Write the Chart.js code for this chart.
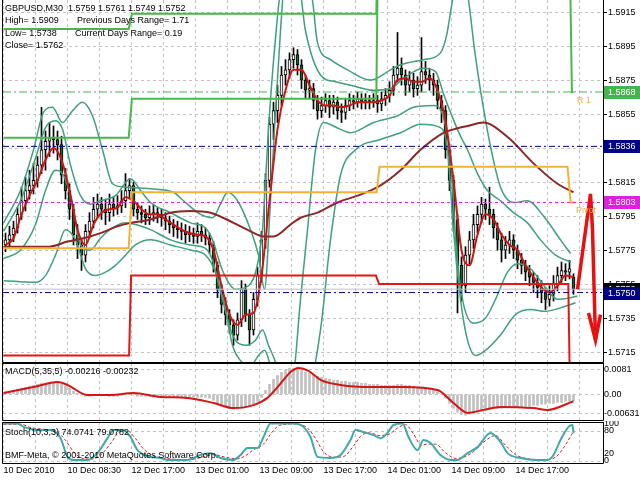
<!DOCTYPE html>
<html lang="en">
<head>
<meta charset="UTF-8">
<title>GBPUSD,M30</title>
<script src="https://cdn.jsdelivr.net/npm/chart.js"></script>
<style>
  body { margin: 0; background: #fff; width: 640px; height: 480px; overflow: hidden; position: relative; font-family: 'Liberation Sans', Arial, sans-serif; }
  canvas { position: absolute; left: 0; }
  .lbl { position: absolute; font-size: 9px; line-height: 10px; color: #000; white-space: pre; z-index: 2; }
</style>
</head>
<body>
<canvas id="main" width="640" height="363" style="top:0"></canvas>
<canvas id="macd" width="640" height="58" style="top:363px"></canvas>
<canvas id="stoch" width="640" height="59" style="top:421px"></canvas>

<div class="lbl" style="left:5px;top:3px">GBPUSD,M30  1.5759 1.5761 1.5749 1.5752</div>
<div class="lbl" style="left:5px;top:15px">High= 1.5909</div>
<div class="lbl" style="left:77px;top:15px">Previous Days Range= 1.71</div>
<div class="lbl" style="left:5px;top:28px">Low= 1.5738</div>
<div class="lbl" style="left:75px;top:28px">Current Days Range= 0.19</div>
<div class="lbl" style="left:5px;top:40px">Close= 1.5762</div>
<div class="lbl" style="left:5px;top:366px">MACD(5,35,5) -0.00216 -0.00232</div>
<div class="lbl" style="left:5px;top:427px">Stoch(10,3,3) 74.0741 79.0782</div>
<div class="lbl" style="left:5px;top:450px">BMF-Meta, © 2001-2010 MetaQuotes Software Corp.</div>

<script>
// ---- data (one entry per M30 bar, bar index 0..142) ----
const opens = [
  1.5778,1.5781,1.5784,1.5788,1.5796,1.5804,1.5810,1.5813,1.5816,1.5825,
  1.5834,1.5839,1.5841,1.5840,1.5837,1.5819,1.5810,1.5799,1.5784,1.5778,
  1.5772,1.5786,1.5792,1.5799,1.5802,1.5799,1.5797,1.5802,1.5800,1.5801,
  1.5804,1.5810,1.5813,1.5799,1.5797,1.5796,1.5794,1.5796,1.5797,1.5796,
  1.5794,1.5792,1.5790,1.5788,1.5787,1.5786,1.5784,1.5785,1.5783,1.5786,
  1.5784,1.5782,1.5778,1.5766,1.5752,1.5743,1.5737,1.5731,1.5725,1.5734,
  1.5752,1.5737,1.5728,1.5746,1.5760,1.5781,1.5816,1.5849,1.5857,1.5866,
  1.5878,1.5881,1.5887,1.5890,1.5884,1.5875,1.5869,1.5870,1.5863,1.5857,
  1.5860,1.5863,1.5859,1.5862,1.5857,1.5856,1.5860,1.5863,1.5862,1.5864,
  1.5862,1.5863,1.5862,1.5863,1.5861,1.5864,1.5866,1.5869,1.5878,1.5882,
  1.5878,1.5872,1.5875,1.5870,1.5872,1.5880,1.5878,1.5875,1.5872,1.5863,
  1.5857,1.5834,1.5816,1.5793,1.5766,1.5754,1.5772,1.5781,1.5790,1.5796,
  1.5802,1.5799,1.5796,1.5788,1.5781,1.5775,1.5778,1.5781,1.5775,1.5769,
  1.5766,1.5762,1.5759,1.5756,1.5753,1.5750,1.5746,1.5749,1.5755,1.5760,
  1.5763,1.5762,1.5759
];
const highs = [
  1.5785,1.5789,1.5792,1.5800,1.5812,1.5818,1.5822,1.5826,1.5830,1.5859,
  1.5845,1.5850,1.5848,1.5845,1.5842,1.5823,1.5814,1.5802,1.5790,1.5782,
  1.5790,1.5797,1.5806,1.5808,1.5806,1.5805,1.5808,1.5806,1.5807,1.5810,
  1.5820,1.5817,1.5815,1.5803,1.5801,1.5799,1.5801,1.5802,1.5800,1.5799,
  1.5797,1.5795,1.5793,1.5792,1.5791,1.5790,1.5789,1.5788,1.5791,1.5790,
  1.5788,1.5785,1.5780,1.5768,1.5755,1.5747,1.5740,1.5734,1.5738,1.5757,
  1.5755,1.5740,1.5750,1.5765,1.5786,1.5820,1.5853,1.5862,1.5872,1.5883,
  1.5887,1.5891,1.5894,1.5893,1.5887,1.5878,1.5875,1.5873,1.5866,1.5865,
  1.5867,1.5866,1.5866,1.5865,1.5861,1.5864,1.5867,1.5866,1.5868,1.5867,
  1.5867,1.5866,1.5867,1.5866,1.5868,1.5870,1.5874,1.5883,1.5903,1.5888,
  1.5881,1.5880,1.5879,1.5877,1.5900,1.5886,1.5882,1.5879,1.5875,1.5866,
  1.5860,1.5837,1.5819,1.5796,1.5771,1.5777,1.5786,1.5796,1.5801,1.5806,
  1.5805,1.5812,1.5799,1.5791,1.5785,1.5783,1.5786,1.5784,1.5778,1.5773,
  1.5769,1.5766,1.5762,1.5760,1.5757,1.5753,1.5754,1.5760,1.5765,1.5768,
  1.5767,1.5769,1.5761
];
const lows = [
  1.5774,1.5777,1.5780,1.5785,1.5793,1.5798,1.5805,1.5808,1.5812,1.5820,
  1.5822,1.5830,1.5832,1.5828,1.5814,1.5805,1.5793,1.5778,1.5770,1.5763,
  1.5768,1.5782,1.5788,1.5794,1.5793,1.5790,1.5792,1.5795,1.5796,1.5797,
  1.5800,1.5805,1.5795,1.5793,1.5791,1.5790,1.5790,1.5792,1.5791,1.5789,
  1.5787,1.5785,1.5783,1.5782,1.5781,1.5779,1.5780,1.5779,1.5779,1.5780,
  1.5778,1.5773,1.5762,1.5747,1.5738,1.5731,1.5726,1.5719,1.5722,1.5730,
  1.5733,1.5719,1.5725,1.5742,1.5756,1.5776,1.5812,1.5840,1.5850,1.5860,
  1.5872,1.5876,1.5882,1.5878,1.5870,1.5864,1.5864,1.5858,1.5852,1.5853,
  1.5856,1.5853,1.5855,1.5852,1.5850,1.5852,1.5857,1.5858,1.5859,1.5858,
  1.5858,1.5858,1.5859,1.5856,1.5857,1.5860,1.5862,1.5866,1.5874,1.5872,
  1.5866,1.5868,1.5865,1.5866,1.5868,1.5873,1.5869,1.5866,1.5858,1.5850,
  1.5829,1.5810,1.5786,1.5738,1.5745,1.5750,1.5767,1.5776,1.5785,1.5791,
  1.5793,1.5790,1.5782,1.5775,1.5768,1.5770,1.5773,1.5770,1.5764,1.5761,
  1.5757,1.5754,1.5750,1.5747,1.5744,1.5740,1.5742,1.5745,1.5751,1.5756,
  1.5757,1.5758,1.5749
];
const closes = [
  1.5781,1.5784,1.5788,1.5796,1.5804,1.5810,1.5813,1.5816,1.5825,1.5834,
  1.5839,1.5841,1.5840,1.5837,1.5819,1.5810,1.5799,1.5784,1.5778,1.5772,
  1.5786,1.5792,1.5799,1.5802,1.5799,1.5797,1.5802,1.5800,1.5801,1.5804,
  1.5810,1.5813,1.5799,1.5797,1.5796,1.5794,1.5796,1.5797,1.5796,1.5794,
  1.5792,1.5790,1.5788,1.5787,1.5786,1.5784,1.5785,1.5783,1.5786,1.5784,
  1.5782,1.5778,1.5766,1.5752,1.5743,1.5737,1.5731,1.5725,1.5734,1.5752,
  1.5737,1.5728,1.5746,1.5760,1.5781,1.5816,1.5849,1.5857,1.5866,1.5878,
  1.5881,1.5887,1.5890,1.5884,1.5875,1.5869,1.5870,1.5863,1.5857,1.5860,
  1.5863,1.5859,1.5862,1.5857,1.5856,1.5860,1.5863,1.5862,1.5864,1.5862,
  1.5863,1.5862,1.5863,1.5861,1.5864,1.5866,1.5869,1.5878,1.5882,1.5878,
  1.5872,1.5875,1.5870,1.5872,1.5880,1.5878,1.5875,1.5872,1.5863,1.5857,
  1.5834,1.5816,1.5793,1.5766,1.5754,1.5772,1.5781,1.5790,1.5796,1.5802,
  1.5799,1.5796,1.5788,1.5781,1.5775,1.5778,1.5781,1.5775,1.5769,1.5766,
  1.5762,1.5759,1.5756,1.5753,1.5750,1.5746,1.5749,1.5755,1.5760,1.5763,
  1.5762,1.5764,1.5752
];

// indicator lines, [bar, value]
const bbUpperWide = [[-0.5,1.5791],[3.75,1.5810],[7,1.5834],[9.5,1.5856],[11.75,1.5859],[14.25,1.5850],[16.75,1.5857],[19.25,1.5862],[21.75,1.5854],[24.25,1.5834],[26.75,1.5814],[30,1.5812],[36.25,1.5811],[42,1.5809],[44.5,1.5804],[48.75,1.5796],[51.75,1.5794],[53.75,1.5802],[55.5,1.5809],[58,1.5804],[61.25,1.5787],[63.25,1.5772],[64.75,1.5752],[66.25,1.5804],[67.5,1.5857],[68.75,1.5904],[70.25,1.5946],[73.75,1.5957],[76.75,1.5922],[78,1.5897],[81.25,1.5887],[85.5,1.5881],[91.25,1.5875],[96.25,1.5881],[98.75,1.5884],[104.5,1.5887],[108.75,1.5891],[110.25,1.5901],[111.75,1.5922],[113.75,1.5946],[115.75,1.5922],[117.25,1.5893],[118.75,1.5869],[121.25,1.5836],[123.75,1.5812],[127,1.5803],[130.5,1.5804],[134.5,1.5795],[138.75,1.5781],[141.25,1.5773]];
const bbUpperNarrow = [[-0.5,1.5786],[3.75,1.5804],[7.5,1.5829],[10,1.5847],[12.5,1.5851],[14.25,1.5846],[16.25,1.5825],[18.75,1.5807],[21.25,1.5802],[23.75,1.5804],[27.5,1.5807],[31.25,1.5817],[33.75,1.5810],[36.25,1.5803],[41.25,1.5797],[46.25,1.5791],[50,1.5788],[51.75,1.5781],[54.25,1.5763],[57.5,1.5752],[60.75,1.5754],[62.75,1.5764],[64.25,1.5787],[65.75,1.5846],[67.25,1.5893],[69.25,1.5934],[72.75,1.5940],[75,1.5904],[78.75,1.5878],[82.5,1.5874],[86.25,1.5872],[92,1.5869],[96.25,1.5870],[99.5,1.5876],[104.5,1.5882],[107.5,1.5880],[109.5,1.5867],[111.25,1.5856],[113.75,1.5842],[115.5,1.5834],[118,1.5820],[120.5,1.5810],[123.75,1.5804],[127,1.5797],[130.5,1.5791],[133.75,1.5781],[137.5,1.5772],[141.25,1.5768]];
const bbLowerWide = [[-0.5,1.5757],[7.5,1.5756],[10,1.5760],[12.5,1.5772],[15,1.5787],[17.5,1.5781],[20,1.5764],[22.5,1.5760],[25,1.5762],[27.5,1.5766],[30,1.5772],[32.5,1.5778],[36.25,1.5781],[41.25,1.5778],[46.25,1.5775],[50,1.5772],[52.5,1.5762],[55,1.5740],[56.75,1.5719],[58.75,1.5710],[61.25,1.5707],[63.25,1.5713],[64.75,1.5716],[66.75,1.5703],[70,1.5687],[72.5,1.5693],[76.25,1.5698],[78.75,1.5728],[81.25,1.5781],[83.75,1.5819],[87.5,1.5834],[93.75,1.5840],[98.75,1.5844],[103.75,1.5849],[108.75,1.5847],[110.5,1.5834],[112,1.5787],[113.75,1.5746],[115.5,1.5722],[117.5,1.5713],[120,1.5716],[123.75,1.5725],[127.5,1.5737],[131.25,1.5740],[135,1.5739],[138.75,1.5741],[142.5,1.5744]];
const bbLowerNarrow = [[-0.5,1.5770],[3.75,1.5775],[7.5,1.5790],[10,1.5810],[12.5,1.5822],[14.5,1.5819],[16.75,1.5802],[18.75,1.5778],[21.25,1.5775],[23.75,1.5782],[26.75,1.5788],[30,1.5791],[32.5,1.5790],[36.25,1.5787],[41.25,1.5781],[46.25,1.5778],[50,1.5776],[51.75,1.5769],[54.25,1.5746],[56.75,1.5725],[60,1.5719],[62.5,1.5722],[64.25,1.5728],[65.75,1.5719],[67.5,1.5709],[69.25,1.5693],[71.75,1.5698],[73.75,1.5746],[75.5,1.5787],[77.5,1.5834],[79.5,1.5850],[83.75,1.5846],[86.25,1.5844],[92,1.5850],[98,1.5854],[102,1.5859],[107,1.5860],[109.5,1.5853],[111.25,1.5828],[112.75,1.5775],[114.25,1.5746],[117,1.5732],[120,1.5735],[122.5,1.5746],[125.5,1.5762],[128,1.5767],[131.25,1.5764],[135,1.5753],[138,1.5746],[141.25,1.5747],[143,1.5748]];
const slowMA = [[-0.5,1.5777],[7,1.5777],[11,1.5777],[15.5,1.5780],[19.5,1.5782],[23.75,1.5785],[28,1.5789],[31.25,1.5791],[36.25,1.5793],[41.25,1.5797],[46.25,1.5798],[51.25,1.5797],[57,1.5791],[61.25,1.5786],[64.5,1.5783],[67,1.5783],[71.25,1.5790],[73.75,1.5794],[78,1.5797],[83,1.5803],[88,1.5807],[93,1.5812],[98.75,1.5822],[103.75,1.5834],[109.5,1.5844],[112,1.5846],[115.5,1.5848],[119.5,1.5850],[121.25,1.5849],[126.25,1.5840],[132,1.5826],[138,1.5814],[142,1.5809]];
const fastMA = [[0,1.5778],[2,1.5782],[4,1.5796],[6,1.5807],[8,1.5816],[10,1.5828],[12,1.5835],[14,1.5828],[16,1.5810],[18,1.5787],[20,1.5778],[22,1.5790],[24,1.5797],[26,1.5799],[28,1.5800],[30,1.5806],[32,1.5804],[34,1.5799],[36,1.5796],[38,1.5796],[40,1.5793],[42,1.5790],[44,1.5787],[46,1.5785],[48,1.5784],[50,1.5783],[52,1.5775],[54,1.5754],[56,1.5737],[58,1.5731],[60,1.5737],[62,1.5738],[64,1.5760],[66,1.5804],[68,1.5846],[70,1.5869],[72,1.5881],[74,1.5881],[76,1.5872],[78,1.5863],[80,1.5860],[82,1.5860],[84,1.5859],[86,1.5860],[88,1.5862],[90,1.5862],[92,1.5862],[94,1.5863],[96,1.5866],[98,1.5875],[100,1.5876],[102,1.5874],[104,1.5874],[106,1.5876],[108,1.5869],[110,1.5851],[112,1.5816],[114,1.5775],[116,1.5766],[118,1.5784],[120,1.5796],[122,1.5793],[124,1.5784],[126,1.5778],[128,1.5775],[130,1.5766],[132,1.5759],[134,1.5753],[136,1.5750],[138,1.5754],[140,1.5760],[142,1.5759]];

// daily pivot levels (step lines)
const r2Line = [[-0.5,1.5905],[30.8,1.5905],[31.6,1.5914],[92.7,1.5914],[93.3,1.5990],[142,1.5990]];
const r1Line = [[-0.5,1.5841],[30.8,1.5841],[31.6,1.5864],[92.7,1.5864],[93.3,1.5990],[140.8,1.5990],[141.6,1.5868],[142,1.5868]];
const pivotLine = [[-0.5,1.5776],[30.8,1.5776],[31.6,1.5809],[92.8,1.5809],[93.5,1.5824],[140.5,1.5824],[141.3,1.5803],[142.5,1.5803]];
const s1Line = [[-0.5,1.5713],[30.9,1.5713],[31.4,1.5760],[92.6,1.5760],[93.4,1.5755],[140.7,1.5755],[141.2,1.5680]];
const arrowShaft = [[143,1.5752],[146.25,1.5808],[146.75,1.5787],[147.5,1.5722]];
const arrowHead = [[145.75,1.5738],[147.5,1.5722],[148.75,1.5737]];

// horizontal levels with axis boxes
const levelValues = [1.5868, 1.5836, 1.5803, 1.5750];
const levelColors = ['#46b44c', '#000088', '#e020e0', '#000088'];
const levelDash = [[8,3,2,3], [6,3,2,3], [3,3], [6,3,2,3]];
const bidPrice = 1.5752;

// MACD
const macdMain = [
  0.0007,0.001,0.0013,0.0017,0.002,0.0023,0.0027,0.003,0.0033,0.0037,
  0.0037,0.004,0.004,0.0037,0.0033,0.0027,0.002,0.001,0.0003,-0.0003,
  -0.0007,-0.0007,-0.0003,-0.0003,-0.0003,-0.0003,-0.0007,-0.0007,-0.0007,-0.0003,
  0,0,-0.0003,-0.0007,-0.0007,-0.0007,-0.0007,-0.001,-0.001,-0.001,
  -0.001,-0.001,-0.001,-0.001,-0.001,-0.001,-0.001,-0.001,-0.001,-0.001,
  -0.001,-0.0013,-0.002,-0.003,-0.0037,-0.0043,-0.0047,-0.005,-0.005,-0.0047,
  -0.0043,-0.004,-0.0033,-0.0023,-0.001,0.0013,0.0033,0.005,0.0063,0.0073,
  0.008,0.0087,0.0087,0.0083,0.008,0.0073,0.007,0.0067,0.006,0.0057,
  0.0053,0.005,0.0047,0.0047,0.0043,0.0043,0.004,0.004,0.004,0.0037,
  0.0037,0.0033,0.0033,0.0033,0.003,0.003,0.003,0.003,0.0033,0.0033,
  0.003,0.003,0.0027,0.0023,0.0023,0.002,0.0017,0.0013,0.0007,0,
  -0.0013,-0.003,-0.0047,-0.006,-0.0067,-0.007,-0.0067,-0.0063,-0.006,-0.0057,
  -0.0053,-0.005,-0.0047,-0.0047,-0.0047,-0.0043,-0.0043,-0.0043,-0.0043,-0.0043,
  -0.004,-0.004,-0.0037,-0.0037,-0.0033,-0.0033,-0.003,-0.003,-0.0027,-0.0027,
  -0.0023,-0.0023,-0.00216
];
const macdSignal = [[-0.5,0.0004],[7,0.0024],[13,0.0041],[15.5,0.0031],[20.5,-0.0002],[26.25,-0.0002],[32,0.0004],[38.75,-0.0009],[45.5,-0.0012],[52,-0.0029],[57,-0.0046],[62,-0.0036],[65.5,-0.0012],[68,0.0024],[69.5,0.0048],[71.25,0.0074],[73.25,0.0088],[75.75,0.0078],[78.75,0.0048],[83.75,0.0031],[91.25,0.0024],[99.5,0.0024],[108,0.0014],[112,-0.0029],[115.5,-0.0062],[119.5,-0.0052],[123.75,-0.0042],[132,-0.0046],[135.5,-0.0052],[142,-0.00232]];
const macdTicks = [-0.00631, 0, 0.0081];
const macdTickLabels = ['-0.00631', '0.00', '0.0081'];

// Stochastic
const stochMain = [[-0.5,100],[3,100],[4.5,91],[8,83],[11.25,83],[13.75,61],[15.5,11],[17,3],[20.5,3],[23,21],[25.5,61],[27,83],[29.5,83],[31.25,64],[33,29],[36.25,11],[38.75,8],[40.5,3],[45.5,3],[48.75,16],[51.25,21],[53.75,8],[57,3],[58.75,16],[60.5,35],[63,35],[64.5,64],[66.25,100],[68.75,100],[72,100],[74.5,91],[76.25,64],[78,11],[81.25,8],[83.75,16],[86.25,56],[87.5,83],[89.5,77],[92,69],[93.75,61],[95.5,75],[97,96],[99.25,100],[100.75,64],[103,29],[104.5,56],[106.25,48],[108.75,16],[111.25,3],[113,3],[115.5,21],[118,37],[121.25,75],[123.75,51],[125.5,21],[128.75,8],[133,3],[135.5,3],[137,16],[138.75,56],[140.75,91],[141.75,96],[142,74]];
const stochSignal = [[-0.5,98],[4,98],[6,90],[9,85],[12.5,80],[15,55],[17,25],[19,8],[21.5,5],[24,18],[26.5,50],[28.5,78],[30.5,80],[32.5,60],[34.5,32],[37,14],[40,7],[46,4],[49.5,11],[52,17],[55,10],[58,6],[60,14],[62,30],[64.5,45],[66.5,75],[68.5,95],[72.5,99],[75.5,88],[77.5,60],[79.5,25],[82,10],[84.5,12],[87,40],[89,68],[91,75],[93.5,68],[96,72],[98,88],[100,97],[102,72],[104,42],[105.5,45],[107.5,45],[110,22],[112.5,7],[114.5,10],[117,25],[119.5,50],[122.5,68],[125,42],[127.5,17],[130.5,6],[134.5,3],[137.5,10],[139.5,35],[141.5,70],[142,79]];
const stochTicks = [0, 20, 80, 100];

// axes
const priceTicks = [1.5715,1.5735,1.5755,1.5775,1.5795,1.5815,1.5835,1.5855,1.5875,1.5895,1.5915];
const timeLabels = ['10 Dec 2010','10 Dec 08:30','12 Dec 17:00','13 Dec 01:00','13 Dec 09:00','13 Dec 17:00','14 Dec 01:00','14 Dec 09:00','14 Dec 17:00'];

// ---- drawing ----
Chart.defaults.font.family = "'Liberation Sans', Arial, sans-serif";
Chart.defaults.font.size = 9;
Chart.defaults.color = '#000';

const GRID = '#c4c4c4';
const TEAL = '#3fa07a';
// x range shifted by 1/8 bar so 1px wicks and grid lines land on whole pixels
const X_MIN = -0.625, X_MAX = 149.375;

const pts = arr => arr.map(p => ({ x: p[0], y: p[1] }));
function lineDs(data, color, width, order, extra) {
  return Object.assign({ type: 'line', data: pts(data), borderColor: color, borderWidth: width,
    pointRadius: 0, fill: false, tension: 0, order: order }, extra || {});
}
function hLine(v, color, dash, order) {
  return lineDs([[X_MIN, v], [X_MAX, v]], color, 1, order, { borderDash: dash });
}
const gridEvery8 = s => { s.ticks = []; for (let v = -0.5; v <= X_MAX; v += 8) s.ticks.push({ value: v }); };
function barAxis(height, labels) {
  return {
    type: 'linear', min: X_MIN, max: X_MAX, offset: false,
    afterBuildTicks: gridEvery8,
    afterFit: s => { s.height = height; s.paddingLeft = 0; s.paddingRight = 0; },
    ticks: labels
      ? { autoSkip: false, maxRotation: 0, minRotation: 0, align: 'start', padding: 2,
          callback: (v, i) => (i % 2 === 0 && timeLabels[i / 2]) ? timeLabels[i / 2] : '' }
      : { display: false },
    grid: { color: GRID, drawTicks: false, offset: false },
    border: { display: false, dash: [3, 3] }
  };
}
function valueAxis(min, max, ticks, label, opts) {
  opts = opts || {};
  return {
    position: 'right', min: min, max: max,
    afterBuildTicks: s => { s.ticks = ticks.map(v => ({ value: v })); },
    afterFit: s => { s.width = 37; s.paddingTop = 0; s.paddingBottom = 0; },
    ticks: { autoSkip: false, padding: opts.padding === undefined ? 1 : opts.padding, callback: label },
    grid: { color: opts.gridColor || GRID, tickColor: '#000', tickLength: opts.tickLength || 4,
            drawTicks: opts.drawTicks !== false, tickBorderDash: [] },
    border: { display: false, dash: [3, 3] }
  };
}

const frame = {
  id: 'frame',
  afterDraw(chart, args, opts) {
    const a = chart.chartArea, ctx = chart.ctx;
    const l = a.left - 0.5, r = a.right + 0.5, b = a.bottom + 0.5, t = a.top + 0.5;
    ctx.save();
    ctx.strokeStyle = '#000';
    ctx.lineWidth = 1;
    ctx.beginPath();
    if (opts.top) { ctx.moveTo(l, t); ctx.lineTo(r, t); }
    ctx.moveTo(l, a.top); ctx.lineTo(l, b); ctx.lineTo(r, b); ctx.lineTo(r, a.top);
    ctx.stroke();
    ctx.restore();
  }
};

const levelBoxes = {
  id: 'levelBoxes',
  afterDraw(chart) {
    const ctx = chart.ctx, y = chart.scales.y, a = chart.chartArea;
    ctx.save();
    ctx.font = "9px 'Liberation Sans', Arial, sans-serif";
    ctx.textBaseline = 'middle';
    const box = (v, color) => {
      const py = Math.round(y.getPixelForValue(v));
      ctx.fillStyle = color;
      ctx.fillRect(a.right + 1, py - 6, 36, 13);
      ctx.fillStyle = '#fff';
      ctx.fillText(v.toFixed(4), a.right + 5, py + 1);
    };
    box(bidPrice, '#000');
    levelValues.forEach((v, i) => box(v, levelColors[i]));
    // level names next to the last bar
    ctx.fillStyle = '#e6b04a';
    ctx.textBaseline = 'top';
    ctx.fillText('R 1', 577, y.getPixelForValue(levelValues[0]) + 4);
    ctx.fillText('Pivot', 576, y.getPixelForValue(levelValues[2]) + 4);
    ctx.restore();
  }
};

const common = { responsive: false, animation: false, events: [],
  plugins: { legend: { display: false }, tooltip: { enabled: false } } };

new Chart(document.getElementById('main'), {
  type: 'line',
  data: { datasets: [
    { type: 'bar', data: opens.map((o, i) => ({ x: i, y: [lows[i], highs[i]] })),
      backgroundColor: '#000', barThickness: 1, grouped: false, order: 30 },
    { type: 'bar', data: opens.map((o, i) => ({ x: i, y: [o, closes[i]] })),
      backgroundColor: c => (c.dataIndex === undefined || closes[c.dataIndex] >= opens[c.dataIndex]) ? '#ffffff' : '#1f5f30',
      borderColor: '#000', borderWidth: 1, borderSkipped: false, barThickness: 3, minBarLength: 1,
      grouped: false, order: 29 },
    lineDs(bbUpperWide, TEAL, 1.5, 20, { cubicInterpolationMode: 'monotone' }),
    lineDs(bbUpperNarrow, TEAL, 1.5, 20, { cubicInterpolationMode: 'monotone' }),
    lineDs(bbLowerWide, TEAL, 1.5, 20, { cubicInterpolationMode: 'monotone' }),
    lineDs(bbLowerNarrow, TEAL, 1.5, 20, { cubicInterpolationMode: 'monotone' }),
    lineDs(slowMA, '#8c2828', 2, 18, { cubicInterpolationMode: 'monotone' }),
    lineDs(fastMA, '#d01414', 2, 17, { cubicInterpolationMode: 'monotone' }),
    hLine(bidPrice, '#c0c0c0', [], 16),
    lineDs(r2Line, '#48b84a', 2, 15),
    lineDs(r1Line, '#48b84a', 2, 15),
    lineDs(pivotLine, '#f2b232', 2, 15),
    lineDs(s1Line, '#e01818', 2, 15),
    ...levelValues.map((v, i) => hLine(v, levelColors[i], levelDash[i], 14)),
    lineDs(arrowShaft, '#e81010', 3.5, 1),
    lineDs(arrowHead, '#e81010', 3.5, 1)
  ] },
  options: Object.assign({}, common, {
    layout: { padding: { left: 3, right: 0, top: 0, bottom: 1 } },
    plugins: Object.assign({}, common.plugins, { frame: { top: false } }),
    scales: {
      x: barAxis(0, false),
      y: valueAxis(1.570916, 1.59221, priceTicks, v => v.toFixed(4))
    }
  }),
  plugins: [frame, levelBoxes]
});

new Chart(document.getElementById('macd'), {
  type: 'line',
  data: { datasets: [
    { type: 'bar', data: macdMain.map((v, i) => ({ x: i, y: v })), backgroundColor: '#c0c0c0',
      barThickness: 2, grouped: false, order: 5 },
    lineDs(macdSignal, '#d41616', 2, 1, { cubicInterpolationMode: 'monotone' })
  ] },
  options: Object.assign({}, common, {
    layout: { padding: { left: 3, right: 0, top: 0, bottom: 1 } },
    plugins: Object.assign({}, common.plugins, { frame: { top: true } }),
    scales: {
      x: barAxis(0, false),
      y: valueAxis(-0.00857, 0.01043, macdTicks, v => macdTickLabels[macdTicks.indexOf(v)] || '',
        { drawTicks: false, padding: 1 })
    }
  }),
  plugins: [frame]
});

new Chart(document.getElementById('stoch'), {
  type: 'line',
  data: { datasets: [
    lineDs(stochSignal, '#d02020', 1, 2, { borderDash: [3, 2], cubicInterpolationMode: 'monotone' }),
    lineDs(stochMain, '#3fa8a8', 2, 1, { cubicInterpolationMode: 'monotone' })
  ] },
  options: Object.assign({}, common, {
    layout: { padding: { left: 3, right: 0, top: 1, bottom: 0 } },
    plugins: Object.assign({}, common.plugins, { frame: { top: true } }),
    scales: {
      x: barAxis(17, true),
      y: valueAxis(-5.33, 104, stochTicks, v => String(v), {
        drawTicks: false, padding: 1,
        gridColor: c => (c.tick && (c.tick.value === 80 || c.tick.value === 0)) ? GRID : 'rgba(0,0,0,0)' })
    }
  }),
  plugins: [frame]
});
</script>
</body>
</html>
